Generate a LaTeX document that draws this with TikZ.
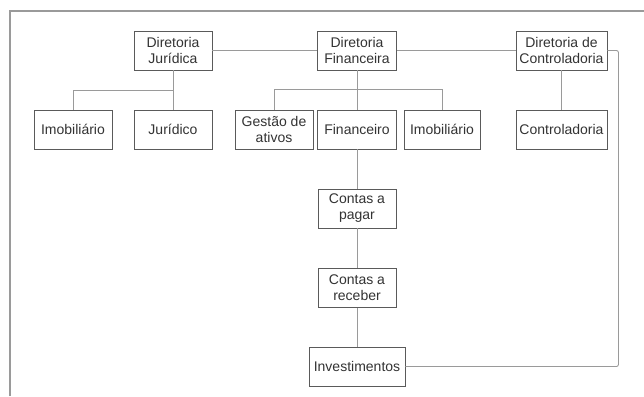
\documentclass[tikz,border=0pt]{standalone}
\usepackage{fontspec}
\setmainfont{Liberation Sans}
\definecolor{boxline}{HTML}{5A5A5A}
\definecolor{linkline}{HTML}{9A9A9A}
\definecolor{txt}{HTML}{333333}
\tikzset{
    unit/.style={draw=boxline,line width=0.9pt,fill=white,text=txt,align=center,
        inner sep=0pt,minimum height=39pt,minimum width=#1,
        font=\fontsize{14}{16}\selectfont},
    unit/.default=78pt,
    link/.style={draw=linkline,line width=0.9pt},
}
\begin{document}
\begin{tikzpicture}[x=1pt,y=-1pt]
\useasboundingbox (0,0) rectangle (644,396);
\draw[linkline,line width=1.1pt] (10,396) -- (10,11) -- (644,11);
% diretorias
\node[unit] (dirjur) at (173,50.5) {Diretoria\\Jurídica};
\node[unit=79pt] (dirfin) at (357,50.5) {Diretoria\\Financeira};
\node[unit=91pt] (dircont) at (561.5,50.5) {Diretoria de\\Controladoria};
% areas
\node[unit] (imobjur) at (73,129.5) {Imobiliário};
\node[unit] (jur) at (173,129.5) {Jurídico};
\node[unit] (gestao) at (274,129.5) {Gestão de\\ativos};
\node[unit=79pt] (financ) at (357,129.5) {Financeiro};
\node[unit=76pt] (imobfin) at (442,129.5) {Imobiliário};
\node[unit=91pt] (control) at (561.5,129.5) {Controladoria};
% financeiro
\node[unit] (pagar) at (357,208.5) {Contas a\\pagar};
\node[unit] (receber) at (357,288) {Contas a\\receber};
\node[unit=96pt] (invest) at (357,366.5) {Investimentos};
\coordinate (jbus) at (173,90);
\coordinate (fbus) at (357,89.5);
\draw[link] (dirjur) -- (dirfin);
\draw[link] (dirfin) -- (dircont);
\draw[link] (dirjur) -- (jur);
\draw[link] (imobjur.north) |- (jbus);
\draw[link] (dirfin) -- (financ);
\draw[link] (gestao.north) |- (fbus) -| (imobfin.north);
\draw[link] (dircont) -- (control);
\draw[link] (financ) -- (pagar);
\draw[link] (pagar) -- (receber);
\draw[link] (receber) -- (invest);
\draw[link,rounded corners=2pt] (dircont.east) -- ++(11,0) |- (invest.east);
\end{tikzpicture}
\end{document}
